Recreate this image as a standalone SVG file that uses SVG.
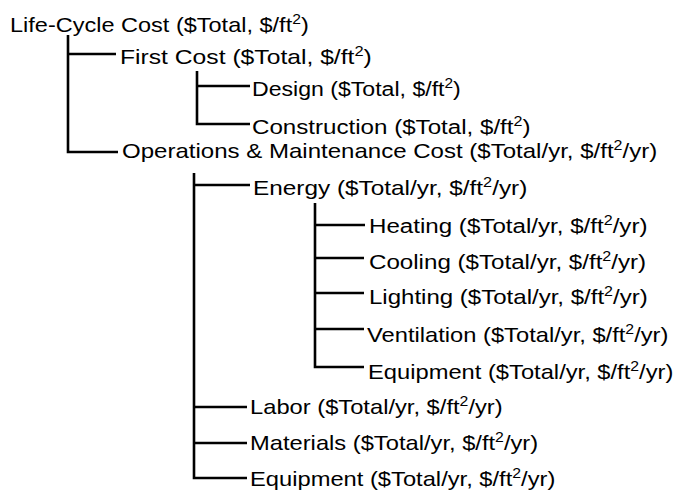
<svg xmlns="http://www.w3.org/2000/svg" width="686" height="492" viewBox="0 0 686 492">
<style>
text{font-family:"Liberation Sans",Arial,sans-serif;font-size:21px;fill:#000}
.sup{font-size:14px}
.c{fill:none;stroke:#000;stroke-width:2.6;stroke-linejoin:miter}
</style>
<rect width="686" height="492" fill="#fff"/>
<g id="connectors">
<path class="c" d="M68,35 V152 H118 M68,54 H116"/>
<path class="c" d="M197,71 V124 H250 M197,86 H250"/>
<path class="c" d="M194,173 V478 H247 M194,185 H250 M194,407 H247 M194,443 H247"/>
<path class="c" d="M315,203 V367 H364 M315,225 H365 M315,258 H364 M315,293 H364 M315,329 H364"/>
</g>
<g id="n-root"><text transform="translate(10,32) scale(1.12,1)">Life-Cycle Cost ($Total, $/ft<tspan class="sup" dy="-8">2</tspan><tspan dy="8">)</tspan></text></g>
<g id="n-first"><text transform="translate(120,64) scale(1.175,1)">First Cost ($Total, $/ft<tspan class="sup" dy="-8">2</tspan><tspan dy="8">)</tspan></text></g>
<g id="n-design"><text transform="translate(252,96) scale(1.1,1)">Design ($Total, $/ft<tspan class="sup" dy="-8">2</tspan><tspan dy="8">)</tspan></text></g>
<g id="n-construction"><text transform="translate(252,134) scale(1.15,1)">Construction ($Total, $/ft<tspan class="sup" dy="-8">2</tspan><tspan dy="8">)</tspan></text></g>
<g id="n-om"><text transform="translate(122,158) scale(1.145,1)">Operations &amp; Maintenance Cost ($Total/yr, $/ft<tspan class="sup" dy="-8">2</tspan><tspan dy="8">/yr)</tspan></text></g>
<g id="n-energy"><text transform="translate(253,195) scale(1.16,1)">Energy ($Total/yr, $/ft<tspan class="sup" dy="-8">2</tspan><tspan dy="8">/yr)</tspan></text></g>
<g id="n-heating"><text transform="translate(369,233) scale(1.15,1)">Heating ($Total/yr, $/ft<tspan class="sup" dy="-8">2</tspan><tspan dy="8">/yr)</tspan></text></g>
<g id="n-cooling"><text transform="translate(369,269) scale(1.15,1)">Cooling ($Total/yr, $/ft<tspan class="sup" dy="-8">2</tspan><tspan dy="8">/yr)</tspan></text></g>
<g id="n-lighting"><text transform="translate(369,304) scale(1.145,1)">Lighting ($Total/yr, $/ft<tspan class="sup" dy="-8">2</tspan><tspan dy="8">/yr)</tspan></text></g>
<g id="n-ventilation"><text transform="translate(367,342) scale(1.13,1)">Ventilation ($Total/yr, $/ft<tspan class="sup" dy="-8">2</tspan><tspan dy="8">/yr)</tspan></text></g>
<g id="n-equipment-energy"><text transform="translate(368,379) scale(1.13,1)">Equipment ($Total/yr, $/ft<tspan class="sup" dy="-8">2</tspan><tspan dy="8">/yr)</tspan></text></g>
<g id="n-labor"><text transform="translate(250,414) scale(1.13,1)">Labor ($Total/yr, $/ft<tspan class="sup" dy="-8">2</tspan><tspan dy="8">/yr)</tspan></text></g>
<g id="n-materials"><text transform="translate(250,450) scale(1.13,1)">Materials ($Total/yr, $/ft<tspan class="sup" dy="-8">2</tspan><tspan dy="8">/yr)</tspan></text></g>
<g id="n-equipment-om"><text transform="translate(250,486) scale(1.13,1)">Equipment ($Total/yr, $/ft<tspan class="sup" dy="-8">2</tspan><tspan dy="8">/yr)</tspan></text></g>
</svg>
